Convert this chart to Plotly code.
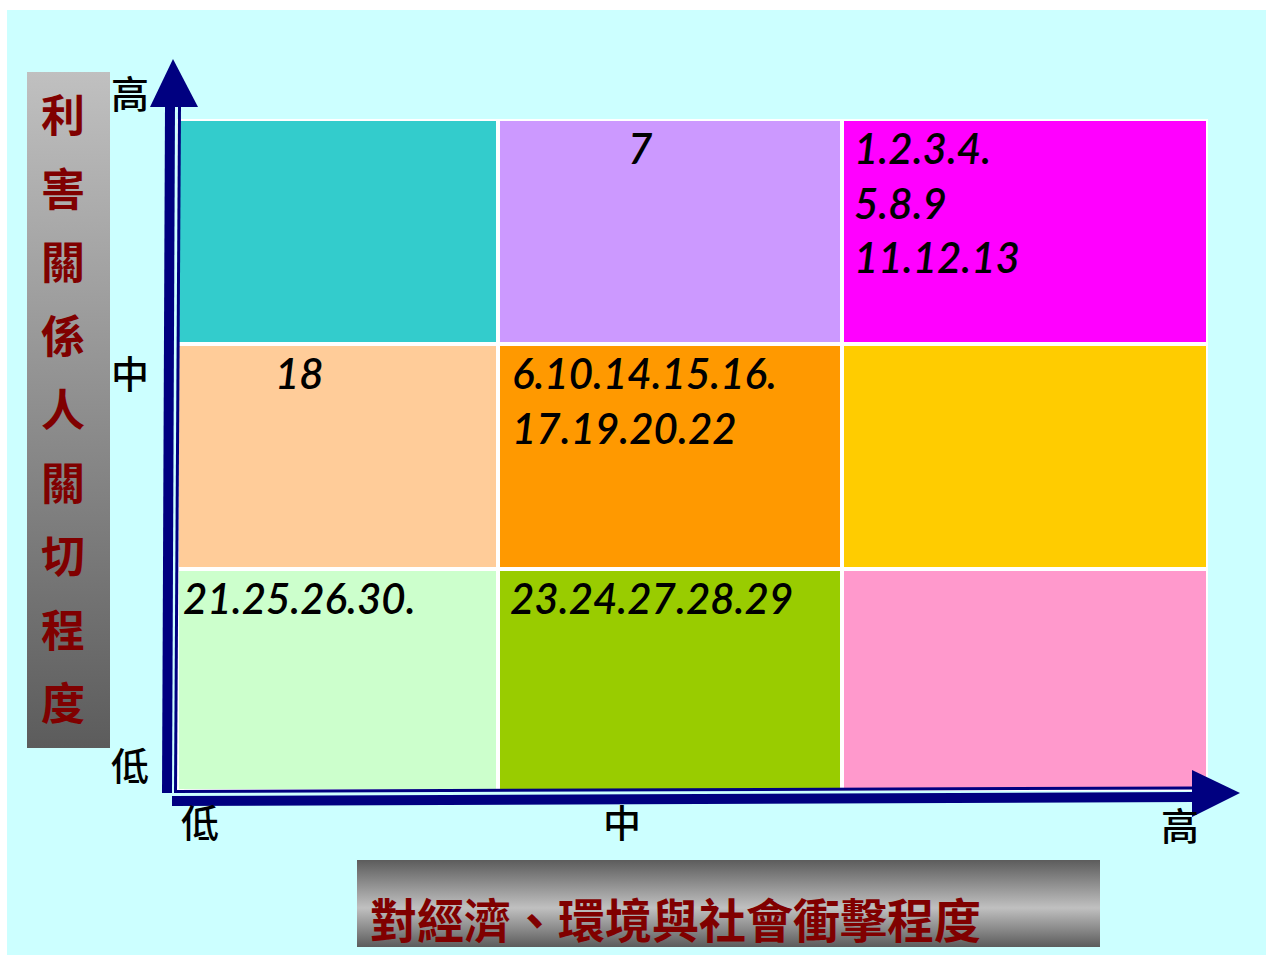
import plotly.graph_objects as go

# ---------------- data ----------------
X_LEVELS = ["低", "中", "高"]          # impact on economy / environment / society
Y_LEVELS = ["高", "中", "低"]          # stakeholder concern, top -> bottom
X_TITLE = "對經濟、環境與社會衝擊程度"
Y_TITLE = "利害關係人關切程度"
CELL_ITEMS = [
    ["", "7", "1.2.3.4.<br>5.8.9<br>11.12.13"],
    ["18", "6.10.14.15.16.<br>17.19.20.22", ""],
    ["21.25.26.30.", "23.24.27.28.29", ""],
]
CELL_COLORS = [
    ["#33CCCC", "#CC99FF", "#FF00FF"],
    ["#FFCC99", "#FF9900", "#FFCC00"],
    ["#CCFFCC", "#99CC00", "#FF99CC"],
]

# ---------------- layout constants (pixel space) ----------------
W, H = 1266, 955
COL_EDGES = [177, 498, 842, 1208]
ROW_EDGES = [119, 344, 569, 791]
LABEL_INDENT = [[0, 128, 10], [96, 12, 0], [4, 10, 0]]
LABEL_TOP_PAD = 2
X_LEVEL_POS = [(200, 820), (622, 820), (1180, 823)]
Y_LEVEL_POS = [(130, 91), (130, 371), (130, 763)]
NAVY = "#000080"
DARKRED = "#800000"
CYAN = "#CCFFFF"
CJK = "Noto Sans CJK TC"

fig = go.Figure()

# grid cells as a heatmap with one discrete colour per cell
n_r, n_c = len(CELL_COLORS), len(CELL_COLORS[0])
flat = [c for row in CELL_COLORS for c in row]
k = len(flat)
cscale = []
for i, c in enumerate(flat):
    cscale.append([i / k, c])
    cscale.append([(i + 1) / k, c])
z = [[r * n_c + c for c in range(n_c)] for r in range(n_r)]
fig.add_trace(go.Heatmap(
    x=COL_EDGES, y=ROW_EDGES, z=z, zmin=-0.5, zmax=k - 0.5,
    colorscale=cscale, showscale=False, xgap=4, ygap=4, hoverinfo="skip",
))

# gradient title boxes
fig.add_trace(go.Scatter(
    x=[27, 110, 110, 27, 27], y=[72, 72, 748, 748, 72],
    fill="toself", mode="lines", line=dict(width=0),
    fillgradient=dict(type="vertical",
                      colorscale=[[0, "#5c5c5c"], [1, "#c0c0c0"]]),
    hoverinfo="skip", showlegend=False,
))
fig.add_trace(go.Scatter(
    x=[357, 1100, 1100, 357, 357], y=[860, 860, 947, 947, 860],
    fill="toself", mode="lines", line=dict(width=0),
    fillgradient=dict(type="vertical",
                      colorscale=[[0, "#5c5c5c"], [0.45, "#c0c0c0"], [1, "#5c5c5c"]]),
    hoverinfo="skip", showlegend=False,
))

shapes = [
    # cyan slide background
    dict(type="rect", xref="x", yref="y", x0=7, x1=W, y0=10, y1=H,
         fillcolor=CYAN, line=dict(width=0), layer="below"),
    # white backing for the cell grid
    dict(type="rect", xref="x", yref="y", x0=COL_EDGES[0], x1=COL_EDGES[-1],
         y0=ROW_EDGES[0], y1=ROW_EDGES[-1], fillcolor="white",
         line=dict(width=0), layer="below"),
    # vertical axis arrow
    dict(type="line", xref="x", yref="y", x0=170, y0=105, x1=167, y1=793,
         line=dict(color=NAVY, width=10)),
    dict(type="line", xref="x", yref="y", x0=179.5, y0=107, x1=175.5, y1=793,
         line=dict(color=NAVY, width=3)),
    dict(type="path", xref="x", yref="y", path="M150,107 L173,59 L198,107 Z",
         fillcolor=NAVY, line=dict(width=0)),
    # horizontal axis arrow
    dict(type="line", xref="x", yref="y", x0=172, y0=801, x1=1194, y1=797,
         line=dict(color=NAVY, width=10)),
    dict(type="line", xref="x", yref="y", x0=175, y0=791.5, x1=1194, y1=788,
         line=dict(color=NAVY, width=3)),
    dict(type="path", xref="x", yref="y", path="M1192,770 L1240,793 L1192,817 Z",
         fillcolor=NAVY, line=dict(width=0)),
]

annotations = []
# cell labels
for r in range(n_r):
    for c in range(n_c):
        txt = CELL_ITEMS[r][c]
        if not txt:
            continue
        annotations.append(dict(
            x=COL_EDGES[c] + LABEL_INDENT[r][c], y=ROW_EDGES[r] + LABEL_TOP_PAD,
            xref="x", yref="y", xanchor="left", yanchor="top", align="left",
            text="<i>" + txt + "</i>", showarrow=False,
            font=dict(family="Lato", size=42, color="black", weight=600),
        ))
# level labels
for lab, (px, py) in zip(X_LEVELS, X_LEVEL_POS):
    annotations.append(dict(x=px, y=py, xref="x", yref="y", text=lab,
                            showarrow=False,
                            font=dict(family=CJK, size=38, color="black", weight=500)))
for lab, (px, py) in zip(Y_LEVELS, Y_LEVEL_POS):
    annotations.append(dict(x=px, y=py, xref="x", yref="y", text=lab,
                            showarrow=False,
                            font=dict(family=CJK, size=38, color="black", weight=500)))
# vertical title, one character per line
for i, ch in enumerate(Y_TITLE):
    annotations.append(dict(x=63, y=113 + i * 73.5, xref="x", yref="y",
                            text="<b>" + ch + "</b>", showarrow=False,
                            font=dict(family=CJK, size=44, color=DARKRED)))
# horizontal title
annotations.append(dict(x=368, y=917, xref="x", yref="y", xanchor="left",
                        text="<b>" + X_TITLE + "</b>", showarrow=False,
                        font=dict(family=CJK, size=47, color=DARKRED)))

fig.update_layout(
    width=W, height=H, margin=dict(l=0, r=0, t=0, b=0),
    paper_bgcolor="white", plot_bgcolor="white",
    xaxis=dict(range=[0, W], visible=False, fixedrange=True),
    yaxis=dict(range=[H, 0], visible=False, fixedrange=True),
    shapes=shapes, annotations=annotations, showlegend=False,
)
fig.write_html("out.html",
               config={"displayModeBar": False},
               post_script="document.body.style.margin='0px';"
                           "document.body.style.overflow='hidden';")
